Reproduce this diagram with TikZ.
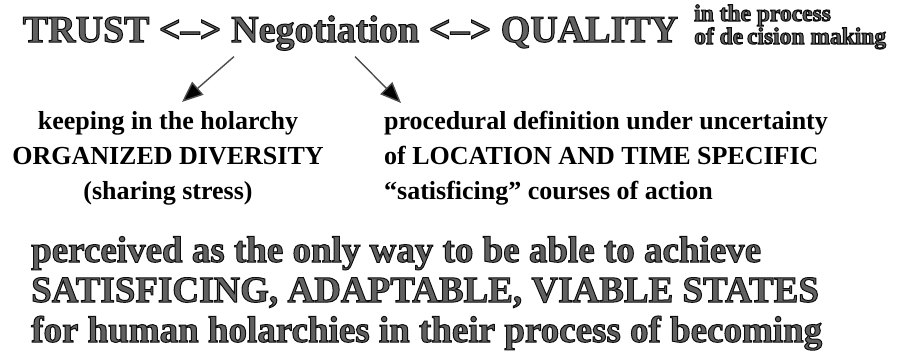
\documentclass[tikz,border=0pt]{standalone}
\usepackage{fontspec}
\setmainfont{Liberation Serif}
\usetikzlibrary{arrows.meta}

% Text drawn with a grey fill and a dark outline (PDF text render mode 2)
\newcommand\hollowtext[1]{\special{pdf:literal direct 2 Tr 1.0 w 0.05 0.05 0.05 RG}#1\special{pdf:literal direct 0 Tr 0 G}}

\tikzset{
  heading/.style={inner sep=0pt, text=black!62, font=\fontsize{38pt}{40pt}\selectfont\bfseries},
  sidenote/.style={inner sep=0pt, text=black!62, align=left, font=\fontsize{23.5pt}{23pt}\selectfont\bfseries},
  branch/.style={inner sep=0pt, text=black, font=\fontsize{26pt}{35pt}\selectfont\bfseries},
  verdict/.style={inner sep=0pt, text=black!62, align=left, font=\fontsize{37pt}{40pt}\selectfont\bfseries},
  arrowline/.style={draw=black!70, line width=1.4pt, -{Triangle[length=21pt,width=17pt,fill=black]}}
}

\begin{document}
\begin{tikzpicture}[x=1pt, y=-1pt]
\useasboundingbox (0,0) rectangle (918,354);

% top line
\node[heading, anchor=base west] (neg) at (231,42) {\hollowtext{Negotiation}};
\node[heading, anchor=base east] (trust) at ([xshift=-9.5pt]neg.base west) {\hollowtext{TRUST <-->}};
\node[heading, anchor=base west] (quality) at ([xshift=9.5pt]neg.base east) {\hollowtext{<--> QUALITY}};
% multi-line nodes: the base anchor sits on the last line
\node[sidenote, anchor=base west] (process) at (694,44) {\hollowtext{in the process}\\\hollowtext{of de\,cision making}};

% the two outcomes
\node[branch, align=center, anchor=base] (keep) at (168,199)
  {keeping in the holarchy\\ORGANIZED DIVERSITY\\(sharing stress)};
\node[branch, align=left, anchor=base west] (proc) at (384,199)
  {procedural definition under uncertainty\\of LOCATION AND TIME SPECIFIC\\``satisficing'' courses of action};

\draw[arrowline] ([shift={(3,6)}]neg.south west) -- ([shift={(14,-97)}]keep.base);
\draw[arrowline] ([shift={(124,6)}]neg.south west) -- ([shift={(17,-96)}]proc.base west);

% conclusion
\node[verdict, anchor=base west] (goal) at (31,342)
  {\hollowtext{perceived as the only way to be able to achieve}\\
   \hollowtext{SATISFICING, ADAPTABLE, VIABLE STATES}\\
   \hollowtext{for human holarchies in their process of becoming}};
\end{tikzpicture}
\end{document}
